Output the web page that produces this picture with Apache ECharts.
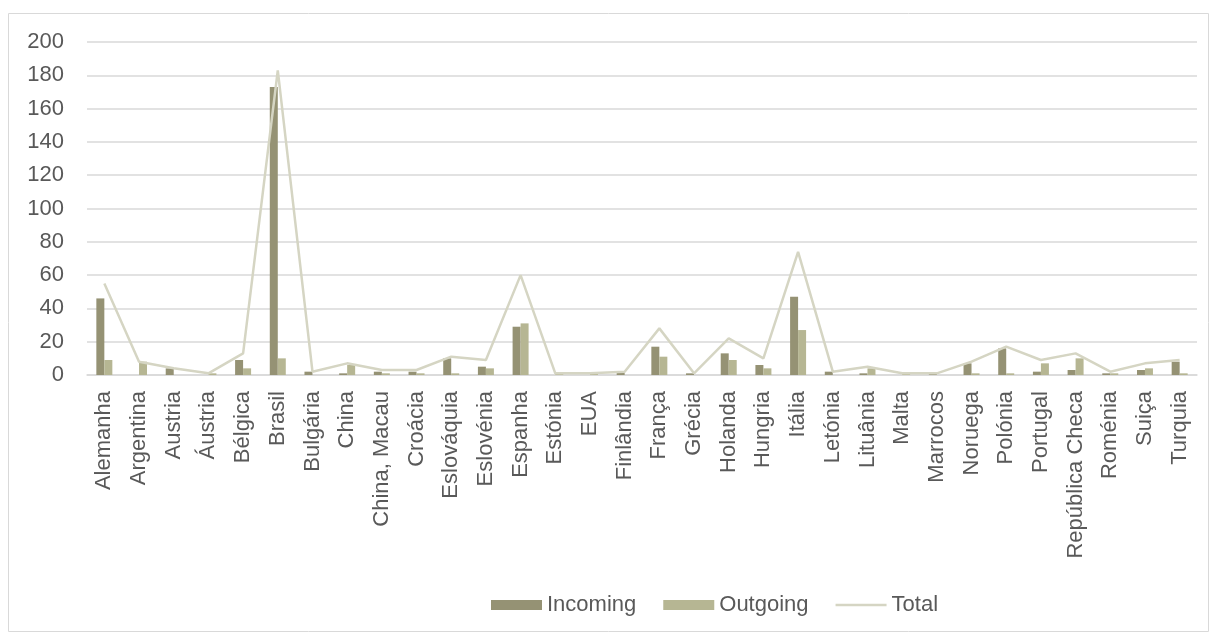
<!DOCTYPE html>
<html>
<head>
<meta charset="utf-8">
<script src="https://cdn.jsdelivr.net/npm/echarts@6/dist/echarts.min.js"></script>
<style>
html,body{margin:0;padding:0;background:#fff;}
#main{width:1217px;height:642px;}
</style>
</head>
<body>
<div id="main"></div>
<script>
var paises = ['Alemanha','Argentina','Austria','Áustria','Bélgica','Brasil','Bulgária','China','China, Macau','Croácia',
	'Eslováquia','Eslovénia','Espanha','Estónia','EUA','Finlândia','França','Grécia','Holanda','Hungria',
	'Itália','Letónia','Lituânia','Malta','Marrocos','Noruega','Polónia','Portugal','República Checa','Roménia',
	'Suiça','Turquia'];
var incoming = [46,0,4,0,9,173,2,1,2,2,10,5,29,0,0,2,17,1,13,6,47,2,1,0,1,7,16,2,3,1,3,8];
var outgoing = [9,8,0,1,4,10,0,6,1,1,1,4,31,1,1,0,11,0,9,4,27,0,4,1,0,1,1,7,10,1,4,1];
var total    = [55,8,4,1,13,183,2,7,3,3,11,9,60,1,1,2,28,1,22,10,74,2,5,1,1,8,17,9,13,2,7,9];
var yTicks = [0,20,40,60,80,100,120,140,160,180,200];

var myChart = echarts.init(document.getElementById('main'));
var fonte = 'Liberation Sans, Arial, sans-serif';

var option = {
	animation: false,
	graphic: [{
		type: 'rect',
		shape: {x: 8.5, y: 13.5, width: 1200, height: 618},
		style: {fill: 'none', stroke: '#d9d9d9', lineWidth: 1},
		silent: true
	}],
	legend: {
		left: 486,
		top: 589,
		itemWidth: 51,
		itemHeight: 10,
		itemGap: 27,
		textStyle: {fontFamily: fonte, fontSize: 22, color: '#595959'},
		data: [
			{name: 'Incoming', icon: 'rect'},
			{name: 'Outgoing', icon: 'rect'},
			{name: 'Total', icon: 'path://M0,0L50,0L50,2.5L0,2.5Z'}
		]
	},
	grid: {
		left: 87,
		right: 20,
		top: 42,
		bottom: 267,
		containLabel: false
	},
	xAxis: {
		type: 'category',
		data: paises,
		axisTick: {show: false},
		axisLine: {lineStyle: {color: '#d9d9d9', width: 1.5}},
		axisLabel: {
			rotate: 90,
			interval: 0,
			margin: 16,
			fontFamily: fonte,
			fontSize: 22,
			color: '#595959'
		}
	},
	yAxis: {
		type: 'value',
		min: yTicks[0],
		max: yTicks[yTicks.length - 1],
		interval: 20,
		axisLine: {show: false},
		axisTick: {show: false},
		splitLine: {lineStyle: {color: '#d9d9d9', width: 1.5}},
		axisLabel: {
			margin: 23,
			fontFamily: fonte,
			fontSize: 22,
			color: '#595959'
		}
	},
	series: [
		{
			name: 'Incoming',
			type: 'bar',
			barWidth: 8,
			barGap: '0%',
			itemStyle: {color: '#959274'},
			data: incoming
		},
		{
			name: 'Outgoing',
			type: 'bar',
			barWidth: 8,
			barGap: '0%',
			itemStyle: {color: '#b6b693'},
			data: outgoing
		},
		{
			name: 'Total',
			type: 'line',
			symbol: 'none',
			z: 5,
			lineStyle: {color: '#d5d5c3', width: 2.5},
			itemStyle: {color: '#d5d5c3'},
			data: total
		}
	]
};

myChart.setOption(option);
</script>
</body>
</html>
